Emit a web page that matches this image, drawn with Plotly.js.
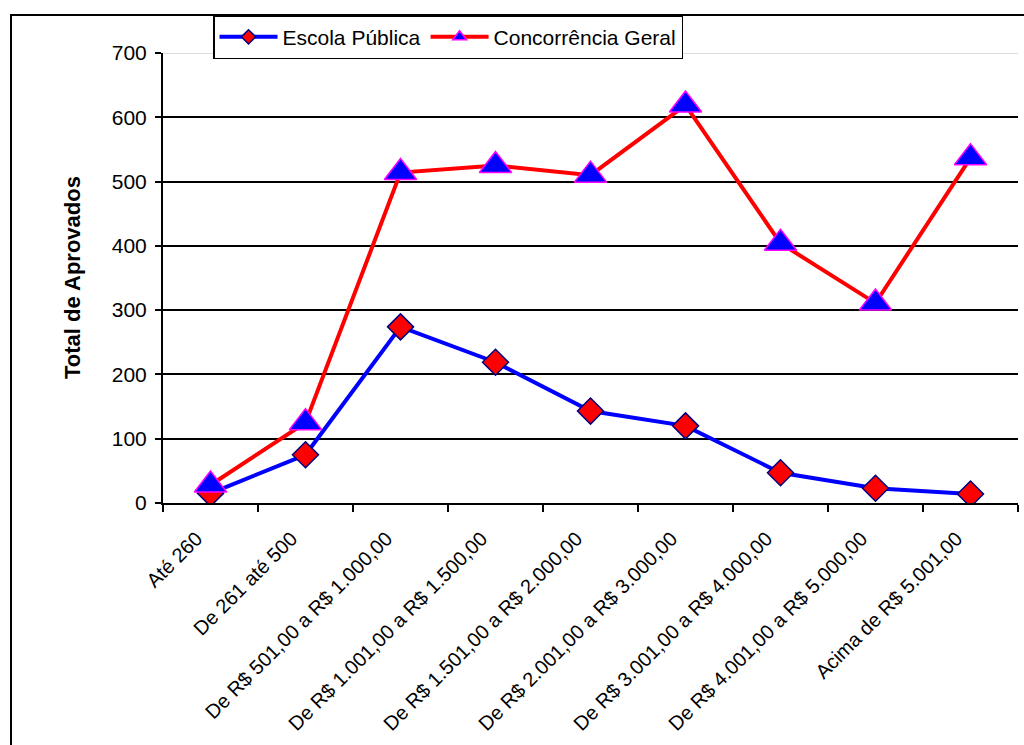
<!DOCTYPE html>
<html>
<head>
<meta charset="utf-8">
<script src="https://cdn.plot.ly/plotly-3.0.1.min.js"></script>
<style>
  html, body { margin: 0; padding: 0; width: 1024px; height: 745px; overflow: hidden; background: #fff; }
  #frame { position: absolute; left: 10px; top: 14px; width: 1100px; height: 900px; border: 2px solid #000; box-sizing: border-box; }
  #chart { position: absolute; left: 0; top: 0; width: 1024px; height: 745px; }
</style>
</head>
<body>
<div id="frame"></div>
<div id="chart"></div>
<script>
const categories = [
  "Até 260",
  "De 261 até 500",
  "De R$ 501,00 a R$ 1.000,00",
  "De R$ 1.001,00 a R$ 1.500,00",
  "De R$ 1.501,00 a R$ 2.000,00",
  "De R$ 2.001,00 a R$ 3.000,00",
  "De R$ 3.001,00 a R$ 4.000,00",
  "De R$ 4.001,00 a R$ 5.000,00",
  "Acima de R$ 5.001,00"
];
const escolaPublica = [15, 75, 274, 219, 143, 120, 47, 23, 14];
const concorrenciaGeral = [28, 125, 514, 525, 510, 619, 404, 311, 537];
const yTicks = [0, 100, 200, 300, 400, 500, 600, 700];
const seriesNames = ["Escola Pública", "Concorrência Geral"];

const font = "Liberation Sans, Arial, sans-serif";

const escolaStyle = {
  line: { color: "#0000FF", width: 4 },
  marker: { symbol: "diamond", color: "#FF0000", line: { color: "#000080", width: 1.5 } }
};
const geralStyle = {
  line: { color: "#FF0000", width: 4 },
  marker: { symbol: "triangle-up", color: "#0000FF", line: { color: "#FF00FF", width: 1.5 } }
};

const traces = [
  {
    x: categories, y: escolaPublica, name: seriesNames[0], showlegend: false,
    type: "scatter", mode: "lines+markers",
    line: escolaStyle.line,
    marker: Object.assign({ size: 20 }, escolaStyle.marker)
  },
  {
    x: categories, y: concorrenciaGeral, name: seriesNames[1], showlegend: false,
    type: "scatter", mode: "lines+markers",
    line: geralStyle.line,
    marker: Object.assign({ size: 28 }, geralStyle.marker)
  },
  // legend entries (smaller legend symbols, as in the original)
  {
    x: [null], y: [null], name: seriesNames[0], type: "scatter", mode: "lines+markers",
    line: escolaStyle.line, marker: Object.assign({ size: 11 }, escolaStyle.marker)
  },
  {
    x: [null], y: [null], name: seriesNames[1], type: "scatter", mode: "lines+markers",
    line: geralStyle.line, marker: Object.assign({ size: 12 }, geralStyle.marker)
  }
];

const layout = {
  width: 1024, height: 745,
  paper_bgcolor: "rgba(0,0,0,0)", plot_bgcolor: "rgba(0,0,0,0)",
  margin: { l: 163, r: 6, t: 53, b: 242 },
  font: { family: font, color: "#000", size: 21 },
  showlegend: true,
  legend: {
    orientation: "h", x: 0.0585, xanchor: "left", y: 1.084, yanchor: "top",
    bordercolor: "#000", borderwidth: 1.5, bgcolor: "#fff",
    font: { family: font, size: 21 }, itemwidth: 58,
    tracegroupgap: 0
  },
  xaxis: {
    type: "category", tickson: "boundaries", range: [-0.5, 8.5],
    showline: true, linecolor: "#000", linewidth: 2,
    ticks: "outside", ticklen: 7, tickwidth: 2, tickcolor: "#000",
    tickangle: -45, tickfont: { family: font, size: 20 },
    ticklabelshift: -14, ticklabelstandoff: 14,
    showgrid: false, zeroline: false, automargin: false
  },
  yaxis: {
    range: [0, 700], tickvals: yTicks, ticktext: yTicks.map(String),
    showline: true, linecolor: "#000", linewidth: 2,
    ticks: "outside", ticklen: 6, tickwidth: 2, tickcolor: "#000",
    tickfont: { family: font, size: 21 }, ticklabelstandoff: 4,
    showgrid: true, gridcolor: "#000", gridwidth: 2,
    zeroline: false, automargin: false
  },
  annotations: [
    { text: "<b>Total de Aprovados</b>", xref: "paper", yref: "paper", x: 0, y: 0.5,
      xanchor: "center", yanchor: "middle", xshift: -91, textangle: -90,
      showarrow: false, font: { family: font, size: 22, color: "#000" } }
  ],
  shapes: [
    { type: "line", xref: "paper", yref: "y", x0: 0, x1: 1, y0: 700, y1: 700,
      line: { color: "#DDDDDD", width: 2 }, layer: "above" }
  ]
};

Plotly.newPlot("chart", traces, layout, { displayModeBar: false, staticPlot: true });
</script>
</body>
</html>
